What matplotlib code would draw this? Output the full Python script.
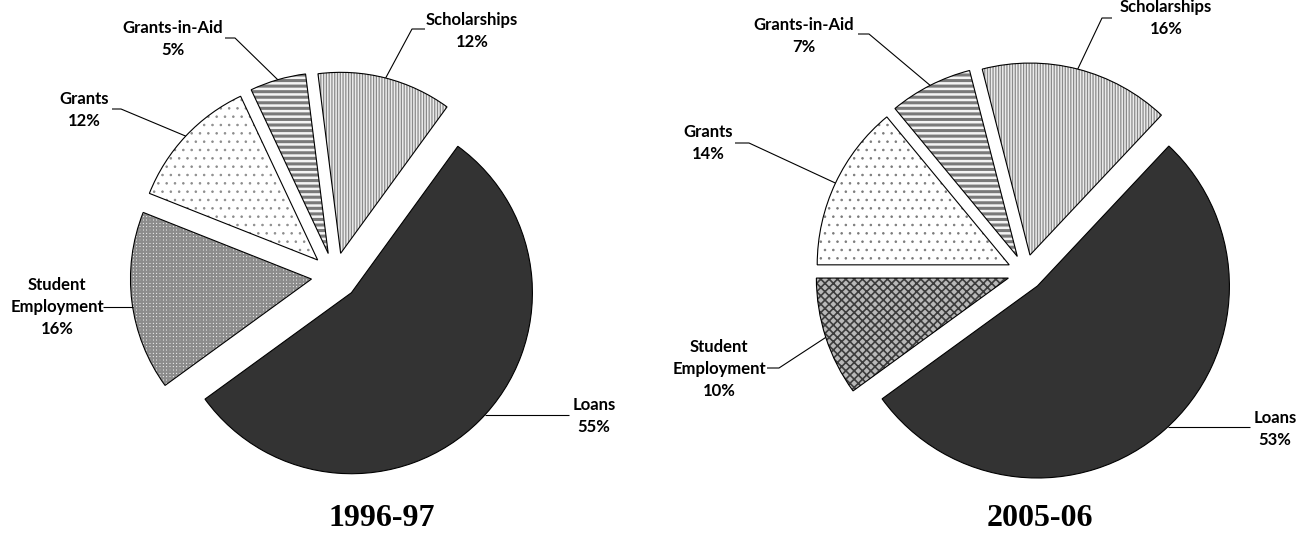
import numpy as np
import matplotlib
matplotlib.use('Agg')
import matplotlib.pyplot as plt

W, H = 1305, 535

# data, in clockwise order starting with Loans
categories = ['Loans', 'Student\nEmployment', 'Grants', 'Grants-in-Aid', 'Scholarships']
share_9697 = [55, 16, 12, 5, 12]
share_0506 = [53, 10, 14, 7, 16]
years = ['1996-97', '2005-06']

# fill styles: (face, hatch, hatch colour, hatch linewidth)
fills_9697 = [('#333333', '', '#333333', 0),
			  ('#ffffff', '+++++', '#8c8c8c', 1.6),
			  ('#ffffff', '..', '#8c8c8c', 0.6),
			  ('#f4f4f4', '---', '#7a7a7a', 2.2),
			  ('#ececec', '||||||', '#8a8a8a', 0.9)]
fills_0506 = [('#333333', '', '#333333', 0),
			  ('#b8b8b8', 'xxxx', '#3c3c3c', 1.2),
			  ('#ffffff', '..', '#7a7a7a', 0.6),
			  ('#f4f4f4', '---', '#7a7a7a', 2.2),
			  ('#ececec', '||||||', '#8a8a8a', 0.9)]


def px(x, y):
	"""pixel coords (y down) -> data coords (y up)"""
	return x, H - y


def draw_pie(ax, values, year, center, radius, explode, start, fills,
			 label_pos, elbows, title_pos):
	# explode is in data units (pixels) here
	kw = dict(explode=[explode] * len(values), radius=radius,
			  center=px(*center), startangle=start, counterclock=False,
			  frame=False)
	wedges, _ = ax.pie(values, **kw)
	for w, (face, hatch, hcol, hlw) in zip(wedges, fills):
		w.set_facecolor(face)
		w.set_edgecolor(hcol)
		w.set_linewidth(0)
		if hatch:
			w.set_hatch(hatch)
			if hasattr(w, 'set_hatch_linewidth'):
				w.set_hatch_linewidth(hlw)
	# outlines on top
	ax.pie(values, wedgeprops=dict(fill=False, edgecolor='black', linewidth=0.8), **kw)

	for w, name, v, tpos, elb in zip(wedges, categories, values, label_pos, elbows):
		cx, cy = w.center
		if len(elb) == 1:
			# straight horizontal leader: meet the arc at the same height
			ly = px(*elb[0])[1]
			mid = np.arcsin(np.clip((ly - cy) / w.r, -1, 1))
			if elb[0][0] < cx:
				mid = np.pi - mid
		else:
			mid = np.deg2rad((w.theta1 + w.theta2) / 2)
		tip = (cx + w.r * np.cos(mid), cy + w.r * np.sin(mid))
		pts = [px(*p) for p in elb] + [tip]
		xs, ys = zip(*pts)
		ax.plot(xs, ys, color='black', lw=0.8, solid_capstyle='butt')
		ax.text(*px(*tpos), f'{name}\n{v}%', ha='center', va='center',
				multialignment='center', fontsize=12, fontweight='bold',
				family='Lato', linespacing=1.45)

	ax.text(*px(*title_pos), year, ha='center', va='center', fontsize=23,
			fontweight='bold', family='Liberation Serif')


fig = plt.figure(figsize=(W / 100, H / 100), dpi=100)
ax = fig.add_axes([0, 0, 1, 1])

draw_pie(ax, share_9697, years[0], center=(334.8, 276.1), radius=181,
		 explode=23.5, start=54, fills=fills_9697,
		 label_pos=[(594, 416), (57, 307), (84, 110), (173, 39), (472, 31)],
		 elbows=[[(569, 415)], [(103, 307)], [(112, 109), (121, 109)],
				 [(225, 38), (235, 38)], [(425, 29), (412, 29)]],
		 title_pos=(382, 518))

draw_pie(ax, share_0506, years[1], center=(1025.5, 272.5), radius=192,
		 explode=18, start=46.8, fills=fills_0506,
		 label_pos=[(1275, 429), (719, 369), (708, 143), (804, 36), (1166, 18)],
		 elbows=[[(1250, 427)], [(767, 368), (779, 368)], [(735, 143), (749, 143)],
				 [(858, 34), (869, 34)], [(1112, 18), (1102, 18)]],
		 title_pos=(1040, 518))

ax.set_xlim(0, W)
ax.set_ylim(0, H)
ax.set_aspect('equal')
ax.axis('off')

fig.savefig('out.png', dpi=100, facecolor='white')
